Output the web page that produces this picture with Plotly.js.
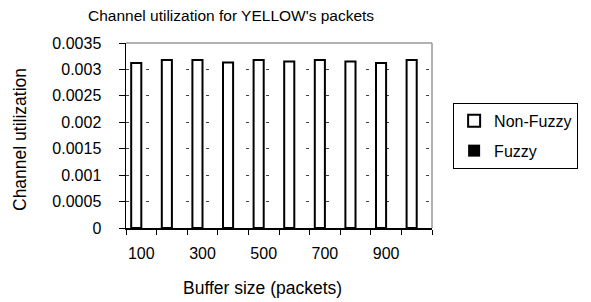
<!DOCTYPE html>
<html>
<head>
<meta charset="utf-8">
<script src="https://cdn.plot.ly/plotly-3.0.1.min.js"></script>
<style>html,body{margin:0;padding:0;background:#fff;}#chart{width:591px;height:302px;}</style>
</head>
<body>
<div id="chart"></div>
<script>
const bufferSizes = [100, 200, 300, 400, 500, 600, 700, 800, 900, 1000];
const nonFuzzy = [0.00312, 0.00318, 0.00318, 0.00313, 0.00318, 0.00315, 0.00318, 0.00315, 0.00312, 0.00318];
const fuzzy = [0, 0, 0, 0, 0, 0, 0, 0, 0, 0];
const xTickVals = [100, 300, 500, 700, 900];
const xTickText = ['100', '300', '500', '700', '900'];
const yTickVals = [0, 0.0005, 0.001, 0.0015, 0.002, 0.0025, 0.003, 0.0035];
const yTickText = ['0', '0.0005', '0.001', '0.0015', '0.002', '0.0025', '0.003', '0.0035'];

const FONT = 'Liberation Sans, Arial, sans-serif';
const FS = 16;

const traces = [
  {type: 'bar', name: 'Non-Fuzzy', x: bufferSizes, y: nonFuzzy, legendgroup: 'a',
   marker: {color: '#ffffff', line: {color: '#000000', width: 2}}},
  {type: 'bar', name: 'Fuzzy', x: bufferSizes, y: fuzzy, legendgroup: 'b',
   marker: {color: '#000000', line: {color: '#000000', width: 0}}}
];

const layout = {
  width: 591, height: 302,
  margin: {l: 126, r: 159, t: 43, b: 74},
  paper_bgcolor: '#ffffff', plot_bgcolor: '#ffffff',
  font: {family: FONT, size: FS, color: '#000'},
  barmode: 'group', bargap: 0.34, bargroupgap: 0,
  showlegend: true,
  legend: {x: 1.069, y: 0.676, xanchor: 'left', yanchor: 'top',
           bordercolor: '#000', borderwidth: 1, bgcolor: '#fff',
           font: {family: FONT, size: FS}, tracegroupgap: 6, traceorder: 'grouped',
           itemwidth: 30},
  xaxis: {range: [50, 1050], tickmode: 'array', tickvals: xTickVals, ticktext: xTickText,
          ticks: '', showgrid: false, zeroline: false, showline: true, linecolor: '#000', linewidth: 1.5,
          ticklabelstandoff: 10, tickfont: {family: FONT, size: FS},
          minor: {tick0: 50, dtick: 100, ticks: 'outside', ticklen: 5, tickcolor: '#000', tickwidth: 1, showgrid: false}},
  yaxis: {range: [0, 0.0035], tickmode: 'array', tickvals: yTickVals, ticktext: yTickText,
          ticks: 'outside', ticklen: 6, tickcolor: '#000', tickwidth: 1,
          showline: true, linecolor: '#000', linewidth: 1.5, zeroline: false,
          showgrid: true, gridcolor: '#444', gridwidth: 1, griddash: '3px,17px',
          ticklabelstandoff: 14, tickfont: {family: FONT, size: FS}},
  shapes: [
    {type: 'line', xref: 'paper', yref: 'paper', x0: 0, x1: 1, y0: 1, y1: 1, line: {color: '#999', width: 1.5}, layer: 'above'},
    {type: 'line', xref: 'paper', yref: 'paper', x0: 1, x1: 1, y0: 0, y1: 1, line: {color: '#999', width: 1.5}, layer: 'above'}
  ],
  annotations: [
    {text: "Channel utilization for YELLOW's packets", xref: 'paper', yref: 'paper',
     x: (230.5 - 126) / 306, y: (228 - 16) / 185, xanchor: 'center', yanchor: 'middle', showarrow: false,
     font: {family: FONT, size: 15.5}},
    {text: 'Buffer size (packets)', xref: 'paper', yref: 'paper',
     x: (262.5 - 126) / 306, y: (228 - 288) / 185, xanchor: 'center', yanchor: 'middle', showarrow: false,
     font: {family: FONT, size: 17.5}},
    {text: 'Channel utilization', xref: 'paper', yref: 'paper', textangle: -90,
     x: (20 - 126) / 306, y: (228 - 140) / 185, xanchor: 'center', yanchor: 'middle', showarrow: false,
     font: {family: FONT, size: 17.5}}
  ]
};

Plotly.newPlot('chart', traces, layout, {staticPlot: true, displayModeBar: false});
</script>
</body>
</html>
